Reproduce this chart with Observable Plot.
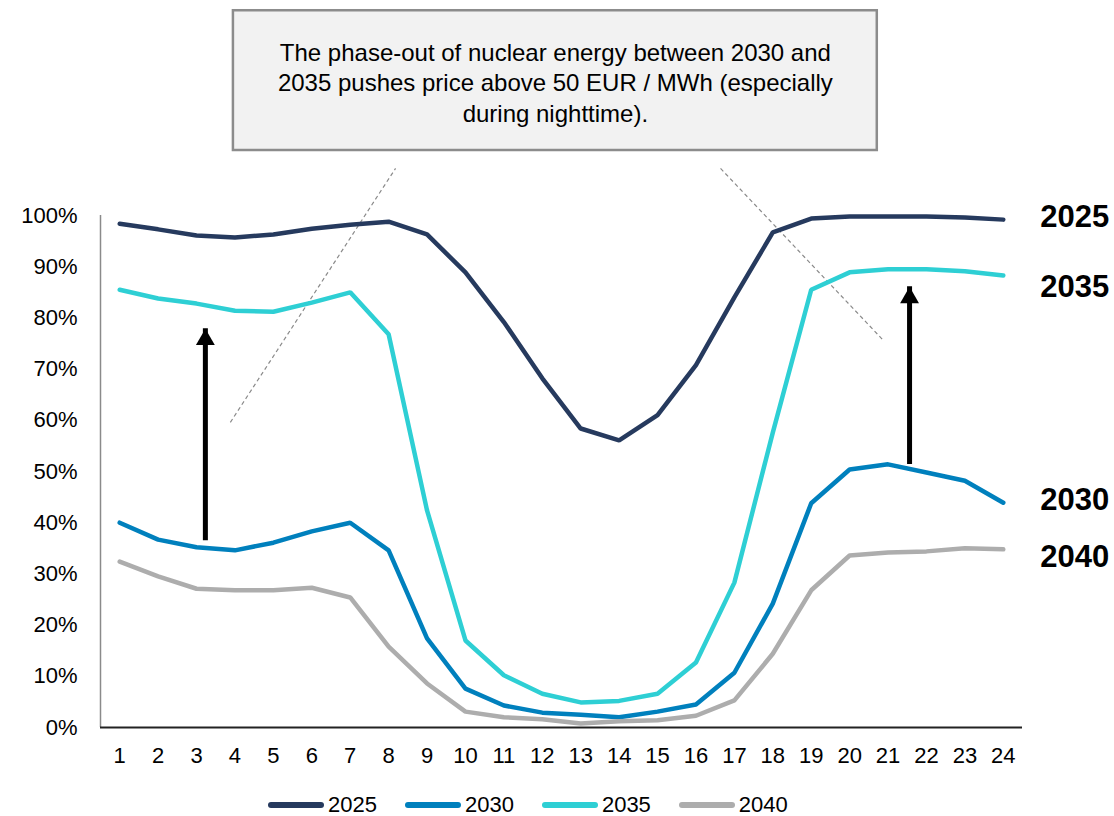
<!DOCTYPE html>
<html>
<head>
<meta charset="utf-8">
<script src="https://cdn.jsdelivr.net/npm/d3@7"></script>
<script src="https://cdn.jsdelivr.net/npm/@observablehq/plot@0.6"></script>
<style>
  body { margin: 0; background: #fff; font-family: "Liberation Sans", Arial, sans-serif; }
  #wrap { position: relative; width: 1114px; height: 816px; }
  #legend { position: absolute; left: 268px; top: 792px; display: flex; align-items: center; font-size: 22px; color: #000; line-height: 26px; }
  .item { display: flex; align-items: center; margin-right: 28px; }
  .sw { width: 56px; height: 6px; border-radius: 3px; margin-right: 4px; }
</style>
</head>
<body>
<div id="wrap"><div id="chart"></div><div id="legend"></div></div>
<script>
const hours = [1,2,3,4,5,6,7,8,9,10,11,12,13,14,15,16,17,18,19,20,21,22,23,24];
const years = ["2025", "2030", "2035", "2040"];
const colors = ["#263a5e", "#0080bd", "#2ecfd4", "#adadad"];
const s2025 = [98.4, 97.3, 96.1, 95.7, 96.3, 97.4, 98.2, 98.8, 96.3, 88.9, 79.2, 68.2, 58.4, 56.1, 61.0, 70.8, 84.0, 96.7, 99.4, 99.8, 99.8, 99.8, 99.6, 99.2];
const s2030 = [40.0, 36.7, 35.2, 34.6, 36.1, 38.3, 40.0, 34.6, 17.4, 7.6, 4.3, 2.9, 2.5, 2.0, 3.1, 4.5, 10.7, 24.2, 43.8, 50.4, 51.4, 49.8, 48.2, 43.9];
const s2035 = [85.5, 83.8, 82.8, 81.4, 81.2, 83.0, 85.0, 76.8, 42.4, 17.0, 10.2, 6.6, 4.9, 5.2, 6.6, 12.7, 28.3, 57.6, 85.5, 88.9, 89.5, 89.5, 89.1, 88.3];
const s2040 = [32.4, 29.5, 27.1, 26.8, 26.8, 27.3, 25.4, 15.8, 8.6, 3.1, 2.0, 1.6, 0.8, 1.2, 1.4, 2.3, 5.3, 14.4, 26.8, 33.6, 34.2, 34.4, 35.0, 34.8];
const yTicks = [0, 10, 20, 30, 40, 50, 60, 70, 80, 90, 100];
const noteText = "The phase-out of nuclear energy between 2030 and\n2035 pushes price above 50 EUR / MWh (especially\nduring nighttime).";

const seriesValues = {"2025": s2025, "2030": s2030, "2035": s2035, "2040": s2040};
const rows = years.flatMap(y => seriesValues[y].map((v, i) => ({series: y, hour: hours[i], value: v / 100})));
const lastRows = years.map(y => ({series: y, hour: hours[hours.length - 1], value: seriesValues[y][hours.length - 1] / 100}));

// annotation geometry (in chart units)
const noteBox = [{x1: 3.96, x2: 20.72, y1: 1.127, y2: 1.40}];
const callouts = [
  {x1: 3.88, y1: 0.596, x2: 8.18, y2: 1.092},
  {x1: 16.64, y1: 1.092, x2: 20.88, y2: 0.756}
];
const arrows = [
  {x: 3.23, from: 0.388, to: 0.779},
  {x: 21.56, from: 0.537, to: 0.861}
];
const labelShift = {"2025": -3, "2030": -3, "2035": 12, "2040": 8};

const font = '"Liberation Sans", Arial, sans-serif';

const chart = Plot.plot({
  width: 1114,
  height: 780,
  marginLeft: 100,
  marginRight: 92,
  marginTop: 0,
  marginBottom: 53,
  style: {fontFamily: font, fontSize: "22px", color: "#000", background: "transparent", overflow: "visible"},
  x: {domain: [0.5, 24.5], label: null},
  y: {domain: [0, 1.42], label: null},
  color: {domain: years, range: colors},
  marks: [
    Plot.rect(noteBox, {x1: "x1", x2: "x2", y1: "y1", y2: "y2", fill: "#f2f2f2", stroke: "#8c8c8c", strokeWidth: 2.5}),
    Plot.text([noteText], {x: d => 12.34, y: d => 1.262, text: d => d, fontSize: 24, lineHeight: 1.28, fill: "#000", lineAnchor: "middle", textAnchor: "middle"}),
    Plot.link(callouts, {x1: "x1", y1: "y1", x2: "x2", y2: "y2", stroke: "#8a8a8a", strokeWidth: 1.2, strokeDasharray: "4,3"}),
    Plot.ruleX([0.5], {y1: 0, y2: 1, stroke: "#8a8a8a", strokeWidth: 1.5}),
    Plot.ruleY([0], {x1: 0.5, x2: 24.5, stroke: "#222", strokeWidth: 2}),
    Plot.axisY({ticks: yTicks.map(t => t / 100), tickFormat: d => Math.round(d * 100) + "%", tickSize: 0, tickPadding: 23, fontSize: 22}),
    Plot.axisX({ticks: hours, tickFormat: d => String(d), tickSize: 0, tickPadding: 20, fontSize: 22}),
    Plot.line(rows, {x: "hour", y: "value", z: "series", stroke: "series", strokeWidth: 4.5, strokeLinejoin: "miter", strokeLinecap: "round"}),
    Plot.ruleX(arrows, {x: "x", y1: "from", y2: "to", stroke: "#000", strokeWidth: 5, insetTop: 12}),
    Plot.dot(arrows, {x: "x", y: "to", symbol: "triangle", r: 7, fill: "#000", stroke: "none", dy: 11}),
    ...years.map(yr => Plot.text(lastRows.filter(d => d.series === yr), {x: "hour", y: "value", text: "series", dx: 37, dy: labelShift[yr], textAnchor: "start", fontSize: 31, fontWeight: "bold", fill: "#000"}))
  ]
});
document.getElementById("chart").appendChild(chart);

const legend = document.getElementById("legend");
years.forEach((y, i) => {
  const item = document.createElement("div");
  item.className = "item";
  const sw = document.createElement("div");
  sw.className = "sw";
  sw.style.background = colors[i];
  const t = document.createElement("span");
  t.textContent = y;
  item.appendChild(sw);
  item.appendChild(t);
  legend.appendChild(item);
});
</script>
</body>
</html>
